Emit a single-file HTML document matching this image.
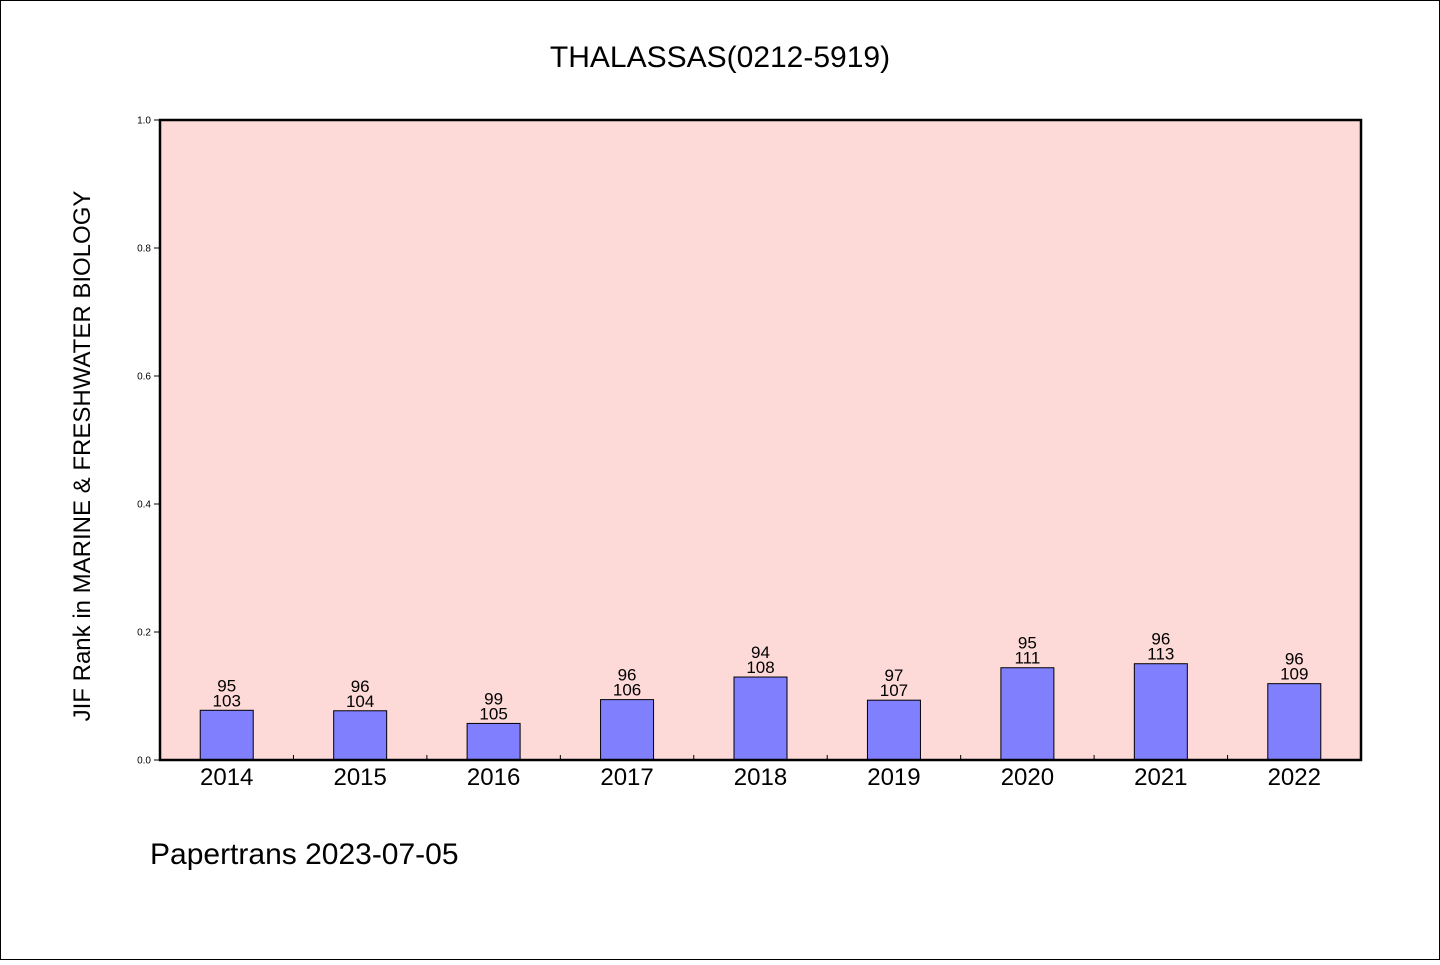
<!DOCTYPE html>
<html>
<head>
<meta charset="utf-8">
<style>
html,body{margin:0;padding:0;background:#fff;}
body{width:1440px;height:960px;overflow:hidden;font-family:"WenQuanYi Zen Hei","Liberation Sans",sans-serif;}
</style>
</head>
<body>
<svg id="chart" width="1440" height="960" xmlns="http://www.w3.org/2000/svg" style="font-family:'WenQuanYi Zen Hei','Liberation Sans',sans-serif">
<rect x="0.5" y="0.5" width="1439" height="959" fill="#fff" stroke="#000" stroke-width="1"/>
<text x="720" y="67" text-anchor="middle" font-size="30">THALASSAS(0212-5919)</text>
<rect x="160" y="120" width="1201" height="640" fill="#fddad7"/>
<g id="bars"></g>
<g id="yaxis"></g>
<g id="xaxis"></g>
<rect x="160" y="120" width="1201" height="640" fill="none" stroke="#000" stroke-width="2.5"/>
<text transform="translate(90,456) rotate(-90)" text-anchor="middle" font-size="24">JIF Rank in MARINE &amp; FRESHWATER BIOLOGY</text>
<text x="150" y="864" font-size="30">Papertrans 2023-07-05</text>
</svg>
<script>
const years = ["2014","2015","2016","2017","2018","2019","2020","2021","2022"];
const ranks = [95,96,99,96,94,97,95,96,96];
const totals = [103,104,105,106,108,107,111,113,109];
const yTicks = [0,0.2,0.4,0.6,0.8,1.0];
const yTickLabels = ["0.0","0.2","0.4","0.6","0.8","1.0"];

const NS="http://www.w3.org/2000/svg";
const x0=160,x1=1361,yTop=120,yBot=760;
const band=(x1-x0)/years.length;
const xc=i=>x0+(i+0.5)*band;
const yv=v=>yBot-v*(yBot-yTop);
function mk(tag,attrs,parent,text){const e=document.createElementNS(NS,tag);for(const k in attrs)e.setAttribute(k,attrs[k]);if(text!==undefined)e.textContent=text;parent.appendChild(e);return e;}
const gb=document.getElementById('bars'),gy=document.getElementById('yaxis'),gx=document.getElementById('xaxis');
years.forEach((yr,i)=>{
  const v=1-ranks[i]/totals[i];
  const bw=53;
  const b=mk('rect',{x:xc(i)-bw/2,y:yv(v),width:bw,height:yBot-yv(v),fill:'#8080ff',stroke:'#000','stroke-width':1},gb);
  
  
  const t1=mk('text',{x:xc(i),y:yv(v)-19,'text-anchor':'middle','font-size':17},gb,String(ranks[i]));
  
  
  const t2=mk('text',{x:xc(i),y:yv(v)-4,'text-anchor':'middle','font-size':17},gb,String(totals[i]));
  
  
  const xl=mk('text',{x:xc(i),y:785,'text-anchor':'middle','font-size':24},gx,yr);
  
  
  if(i>0){
    const tk=mk('line',{x1:x0+i*band,x2:x0+i*band,y1:yBot-5,y2:yBot,stroke:'#000','stroke-width':1},gx);
    
    
  }
});
yTicks.forEach((v,i)=>{
  const tk=mk('line',{x1:x0-6,x2:x0,y1:yv(v),y2:yv(v),stroke:'#000','stroke-width':1},gy);
  
  
  const tl=mk('text',{x:x0-9,y:yv(v)+3.5,'text-anchor':'end','font-size':10},gy,yTickLabels[i]);
  
  
});
</script>
</body>
</html>
